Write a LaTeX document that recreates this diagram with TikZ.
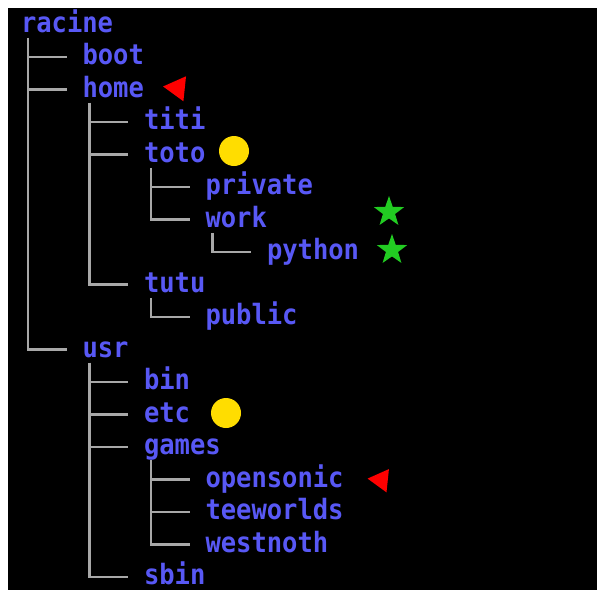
\documentclass[tikz,border=0pt]{standalone}
\usepackage{fontspec}
\newfontfamily\treefont[FakeStretch=0.91]{DejaVu Sans Mono}
\usetikzlibrary{shapes.geometric}
\definecolor{dirblue}{RGB}{88,88,245}
\definecolor{branchgray}{RGB}{168,168,168}
\definecolor{dotyellow}{RGB}{255,221,0}
\definecolor{stargreen}{RGB}{34,204,34}
\begin{document}
\begin{tikzpicture}[x=1pt,y=-1pt,line width=2pt]

	\def \colA{20}
	\def \colB{81.5}
	\def \colC{143}
	\def \colD{204.5}
	\def \colE{266}
	\tikzstyle{f-node}=[font=\treefont\fontsize{28}{30}\bfseries,text=dirblue,anchor=west,inner sep=0pt,text height=20pt,text depth=4.6pt]
	\tikzstyle{branch}=[draw=branchgray,line width=2.4pt]
	\tikzstyle{dot}=[circle,fill=dotyellow,inner sep=0pt,minimum size=30pt]
	\tikzstyle{tri}=[regular polygon,regular polygon sides=3,shape border rotate=84,fill=red,inner sep=0pt]
	\tikzstyle{gstar}=[star,star points=5,star point ratio=2.5,fill=stargreen,inner sep=0pt,minimum size=32pt]

	% background
	\useasboundingbox (0,0) rectangle (597,590);
	\fill[white] (0,0) rectangle (597,590);
	\fill[black] (8,8) rectangle (597,590);

	% directories
	\node[f-node] (racine)    at (\colA,24.5)  {racine};
	\node[f-node] (boot)      at (\colB,57)    {boot};
	\node[f-node] (home)      at (\colB,89.5)  {home};
	\node[f-node] (titi)      at (\colC,122)   {titi};
	\node[f-node] (toto)      at (\colC,154.5) {toto};
	\node[f-node] (private)   at (\colD,187)   {private};
	\node[f-node] (work)      at (\colD,219.5) {work};
	\node[f-node] (python)    at (\colE,252)   {python};
	\node[f-node] (tutu)      at (\colC,284.5) {tutu};
	\node[f-node] (public)    at (\colD,317)   {public};
	\node[f-node] (usr)       at (\colB,349.5) {usr};
	\node[f-node] (bin)       at (\colC,382)   {bin};
	\node[f-node] (etc)       at (\colC,414.5) {etc};
	\node[f-node] (games)     at (\colC,447)   {games};
	\node[f-node] (opensonic) at (\colD,479.5) {opensonic};
	\node[f-node] (teeworlds) at (\colD,512)   {teeworlds};
	\node[f-node] (westnoth)  at (\colD,544.5) {westnoth};
	\node[f-node] (sbin)      at (\colC,577)   {sbin};

	% branches
	\foreach \p/\c in {racine/boot,racine/home,racine/usr,home/titi,home/toto,home/tutu,
		toto/private,toto/work,work/python,tutu/public,usr/bin,usr/etc,usr/games,usr/sbin,
		games/opensonic,games/teeworlds,games/westnoth}
		\draw[branch] ([xshift=8pt]\p.south west) |- ([xshift=-15pt]\c.west);

	% marks
	\node[tri,minimum size=29pt] (homemark) at (177.5,88) {};
	\node[dot] (totomark) at (234,151) {};
	\node[gstar] (workmark) at (389,212) {};
	\node[gstar] (pythonmark) at (392,250) {};
	\node[dot] (etcmark) at (226,413) {};
	\node[tri,minimum size=27pt] (opensonicmark) at (381,480) {};
\end{tikzpicture}
\end{document}
